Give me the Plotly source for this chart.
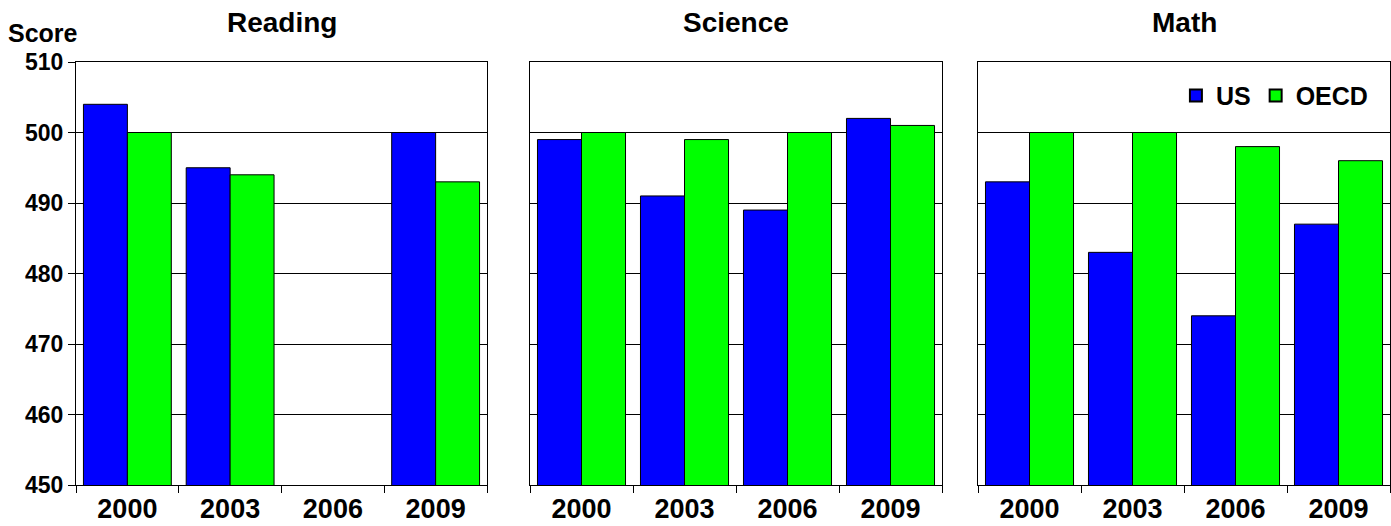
import plotly.graph_objects as go

years = ["2000", "2003", "2006", "2009"]
subjects = ["Reading", "Science", "Math"]
us_reading = [504, 495, None, 500]
oecd_reading = [500, 494, None, 493]
us_science = [499, 491, 489, 502]
oecd_science = [500, 499, 500, 501]
us_math = [493, 483, 474, 487]
oecd_math = [500, 500, 498, 496]
y_ticks = [450, 460, 470, 480, 490, 500, 510]

us_vals = [us_reading, us_science, us_math]
oecd_vals = [oecd_reading, oecd_science, oecd_math]

FONT = "Liberation Sans, Arial, sans-serif"
BLUE = "#0000FF"
GREEN = "#00FF00"

fig = go.Figure()
for i in range(3):
    xa = "x" if i == 0 else f"x{i+1}"
    ya = "y" if i == 0 else f"y{i+1}"
    fig.add_trace(go.Bar(x=years, y=us_vals[i], name="US", marker=dict(color=BLUE, line=dict(color="black", width=1)),
                         xaxis=xa, yaxis=ya, showlegend=(i == 2), legendgroup="US"))
    fig.add_trace(go.Bar(x=years, y=oecd_vals[i], name="OECD", marker=dict(color=GREEN, line=dict(color="black", width=1)),
                         xaxis=xa, yaxis=ya, showlegend=(i == 2), legendgroup="OECD"))

W = 1314.0
domains = [[0, (487 - 76) / W], [(530 - 76) / W, (942 - 76) / W], [(978 - 76) / W, 1.0]]

layout = dict(
    width=1391, height=526,
    margin=dict(l=76, r=1, t=62, b=41),
    paper_bgcolor="white", plot_bgcolor="white",
    barmode="group", bargap=0.145, bargroupgap=0,
    font=dict(family=FONT, color="black"),
    legend=dict(orientation="h", x=0.987, xanchor="right", y=0.92, yanchor="middle",
                font=dict(size=25, family=FONT, color="black", weight="bold"), bgcolor="rgba(0,0,0,0)",
                itemsizing="constant", traceorder="normal", itemwidth=30),
)
for i in range(3):
    xk = "xaxis" if i == 0 else f"xaxis{i+1}"
    yk = "yaxis" if i == 0 else f"yaxis{i+1}"
    ya = "y" if i == 0 else f"y{i+1}"
    xa = "x" if i == 0 else f"x{i+1}"
    layout[xk] = dict(domain=domains[i], anchor=ya, type="category", categoryorder="array", categoryarray=years,
                      showline=True, linecolor="black", linewidth=1, mirror=True,
                      ticks="outside", tickson="boundaries", ticklen=7, tickcolor="black",
                      tickfont=dict(size=27, family=FONT, color="black", weight="bold"), showgrid=False)
    layout[yk] = dict(domain=[0, 1], anchor=xa, range=[450, 510], tickvals=y_ticks,
                      showline=True, linecolor="black", linewidth=1, mirror=True,
                      showgrid=True, gridcolor="black", gridwidth=1, zeroline=False,
                      ticks="outside" if i == 0 else "", ticklen=7, tickcolor="black",
                      showticklabels=(i == 0),
                      tickfont=dict(size=23, family=FONT, color="black", weight="bold"))
fig.update_layout(**layout)

centers = [(76 + 487) / 2, (530 + 942) / 2, (978 + 1390) / 2]
for i, s in enumerate(subjects):
    fig.add_annotation(text=f"<b>{s}</b>", x=(centers[i] - 76) / W, xref="paper", y=1 + (62 - 22) / 423.0,
                       yref="paper", yanchor="middle", xanchor="center", showarrow=False,
                       font=dict(size=28, family=FONT, color="black"))
fig.add_annotation(text="<b>Score</b>", x=-(76 - 6) / W, xref="paper", xanchor="left",
                   y=1 + (62 - 33) / 423.0, yref="paper", yanchor="middle", showarrow=False,
                   font=dict(size=25, family=FONT, color="black"))

fig.write_html("out.html", config={"displayModeBar": False},
               post_script="document.body.style.margin='0';document.body.style.overflow='hidden';")
